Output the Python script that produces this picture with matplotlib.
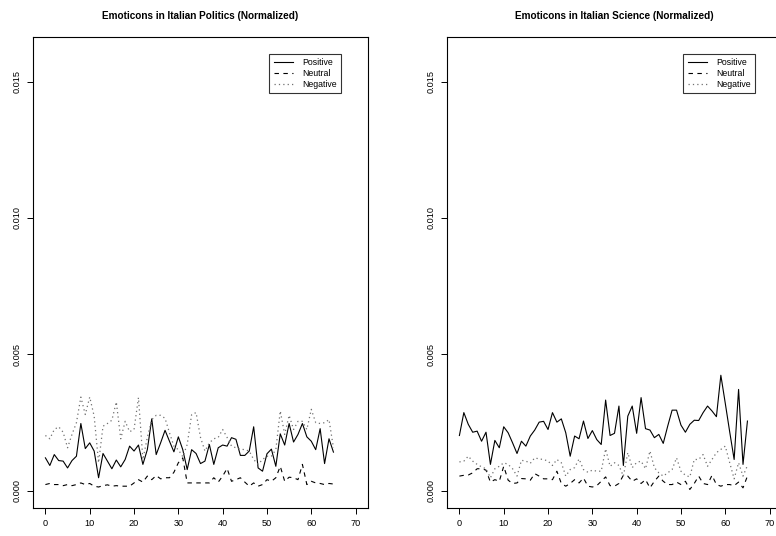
import matplotlib.pyplot as plt
import numpy as np

plt.rcParams['font.family'] = ['Liberation Sans', 'DejaVu Sans']

# time index (0..65)
idx = np.arange(66)

# Italian Politics
pol_positive = [0.00120, 0.00092, 0.00132, 0.00110, 0.00108, 0.00083, 0.00110, 0.00126, 0.00246, 0.00154,
                0.00175, 0.00145, 0.00047, 0.00136, 0.00108, 0.00080, 0.00112, 0.00087, 0.00114, 0.00163,
                0.00145, 0.00167, 0.00096, 0.00150, 0.00263, 0.00132, 0.00175, 0.00221, 0.00181, 0.00142,
                0.00197, 0.00150, 0.00077, 0.00150, 0.00136, 0.00099, 0.00108, 0.00169, 0.00096, 0.00157,
                0.00167, 0.00163, 0.00194, 0.00188, 0.00129, 0.00129, 0.00145, 0.00234, 0.00083, 0.00071,
                0.00135, 0.00152, 0.00089, 0.00208, 0.00167, 0.00246, 0.00178, 0.00206, 0.00246, 0.00197,
                0.00181, 0.00150, 0.00227, 0.00099, 0.00190, 0.00141]
pol_neutral = [0.00022, 0.00026, 0.00022, 0.00022, 0.00018, 0.00022, 0.00018, 0.00022, 0.00028, 0.00022,
               0.00026, 0.00016, 0.00013, 0.00018, 0.00021, 0.00016, 0.00018, 0.00016, 0.00016, 0.00016,
               0.00028, 0.00040, 0.00031, 0.00053, 0.00040, 0.00055, 0.00043, 0.00047, 0.00047, 0.00067,
               0.00102, 0.00120, 0.00028, 0.00028, 0.00028, 0.00028, 0.00028, 0.00028, 0.00047, 0.00031,
               0.00053, 0.00081, 0.00034, 0.00040, 0.00047, 0.00031, 0.00016, 0.00028, 0.00016, 0.00022,
               0.00040, 0.00034, 0.00047, 0.00089, 0.00034, 0.00049, 0.00047, 0.00040, 0.00096, 0.00022,
               0.00034, 0.00028, 0.00026, 0.00022, 0.00026, 0.00024]
pol_negative = [0.00202, 0.00190, 0.00224, 0.00234, 0.00214, 0.00157, 0.00206, 0.00249, 0.00343, 0.00279,
                0.00343, 0.00273, 0.00102, 0.00236, 0.00246, 0.00258, 0.00325, 0.00190, 0.00254, 0.00216,
                0.00224, 0.00341, 0.00114, 0.00195, 0.00260, 0.00276, 0.00276, 0.00265, 0.00212, 0.00163,
                0.00150, 0.00124, 0.00169, 0.00279, 0.00286, 0.00195, 0.00145, 0.00175, 0.00190, 0.00195,
                0.00224, 0.00195, 0.00163, 0.00157, 0.00152, 0.00150, 0.00145, 0.00114, 0.00096, 0.00114,
                0.00126, 0.00126, 0.00150, 0.00292, 0.00206, 0.00276, 0.00224, 0.00254, 0.00254, 0.00224,
                0.00298, 0.00249, 0.00246, 0.00249, 0.00260, 0.00157]

# Italian Science
sci_positive = [0.00202, 0.00286, 0.00243, 0.00214, 0.00218, 0.00181, 0.00214, 0.00096, 0.00184, 0.00157,
                0.00234, 0.00212, 0.00175, 0.00136, 0.00181, 0.00163, 0.00200, 0.00222, 0.00251, 0.00254,
                0.00224, 0.00286, 0.00251, 0.00263, 0.00212, 0.00126, 0.00200, 0.00190, 0.00255, 0.00191,
                0.00220, 0.00187, 0.00169, 0.00332, 0.00202, 0.00210, 0.00310, 0.00092, 0.00273, 0.00310,
                0.00210, 0.00341, 0.00227, 0.00222, 0.00194, 0.00206, 0.00173, 0.00236, 0.00295, 0.00295,
                0.00240, 0.00214, 0.00243, 0.00258, 0.00257, 0.00286, 0.00310, 0.00292, 0.00271, 0.00423,
                0.00320, 0.00215, 0.00114, 0.00371, 0.00096, 0.00255]
sci_neutral = [0.00053, 0.00056, 0.00057, 0.00065, 0.00080, 0.00080, 0.00075, 0.00031, 0.00040, 0.00034,
               0.00089, 0.00038, 0.00026, 0.00028, 0.00044, 0.00043, 0.00038, 0.00062, 0.00053, 0.00043,
               0.00043, 0.00040, 0.00071, 0.00026, 0.00016, 0.00026, 0.00040, 0.00028, 0.00046, 0.00016,
               0.00013, 0.00018, 0.00034, 0.00050, 0.00018, 0.00016, 0.00026, 0.00056, 0.00053, 0.00034,
               0.00043, 0.00026, 0.00040, 0.00010, 0.00034, 0.00053, 0.00034, 0.00022, 0.00022, 0.00031,
               0.00022, 0.00034, 0.00004, 0.00026, 0.00053, 0.00026, 0.00022, 0.00056, 0.00022, 0.00016,
               0.00022, 0.00022, 0.00018, 0.00031, 0.00010, 0.00053]
sci_negative = [0.00105, 0.00108, 0.00126, 0.00108, 0.00096, 0.00087, 0.00080, 0.00047, 0.00080, 0.00089,
                0.00102, 0.00096, 0.00080, 0.00053, 0.00111, 0.00108, 0.00100, 0.00120, 0.00116, 0.00114,
                0.00108, 0.00092, 0.00114, 0.00102, 0.00053, 0.00077, 0.00084, 0.00116, 0.00077, 0.00067,
                0.00075, 0.00071, 0.00071, 0.00153, 0.00089, 0.00102, 0.00092, 0.00053, 0.00139, 0.00084,
                0.00103, 0.00108, 0.00080, 0.00145, 0.00084, 0.00065, 0.00053, 0.00065, 0.00077, 0.00120,
                0.00071, 0.00056, 0.00050, 0.00114, 0.00114, 0.00132, 0.00089, 0.00114, 0.00139, 0.00151,
                0.00163, 0.00102, 0.00043, 0.00102, 0.00053, 0.00092]

x_ticks = [0, 10, 20, 30, 40, 50, 60, 70]
y_ticks = [0.000, 0.005, 0.010, 0.015]

fig = plt.figure(figsize=(7.76, 5.36), dpi=100)
ax1 = fig.add_axes([33 / 776, 28 / 536, 335 / 776, 471 / 536])
ax2 = fig.add_axes([447 / 776, 28 / 536, 335 / 776, 471 / 536])

panels = [
    (ax1, 'Emoticons in Italian Politics (Normalized)', pol_positive, pol_neutral, pol_negative),
    (ax2, 'Emoticons in Italian Science (Normalized)', sci_positive, sci_neutral, sci_negative),
]

for ax, title, pos, neu, neg in panels:
    ax.plot(idx, pos, color='black', lw=0.8, label='Positive')
    ax.plot(idx, neu, color='black', lw=0.8, dashes=(4, 4), label='Neutral')
    ax.plot(idx, neg, color='#707070', lw=0.9, dashes=(1, 2.5), label='Negative')

    ax.set_xlim(-2.8, 72.8)
    ax.set_ylim(-0.00064, 0.01664)
    ax.set_xticks(x_ticks)
    ax.set_xticklabels([str(t) for t in x_ticks])
    ax.set_yticks(y_ticks)
    ax.set_yticklabels([f'{t:.3f}' for t in y_ticks], rotation=90, va='center')
    ax.tick_params(direction='out', length=4, width=0.7, labelsize=6.6, pad=4)
    for s in ax.spines.values():
        s.set_linewidth(0.8)
    ax.set_title(title, fontsize=7.2, fontweight='bold', pad=13)

    leg = ax.legend(loc='upper right', bbox_to_anchor=(0.919, 0.964), fontsize=6.3,
                    frameon=True, fancybox=False, handlelength=2.2, handletextpad=1.0,
                    borderpad=0.5, labelspacing=0.2, borderaxespad=0)
    leg.get_frame().set_edgecolor('black')
    leg.get_frame().set_linewidth(0.8)

fig.savefig('out.png', dpi=100)
